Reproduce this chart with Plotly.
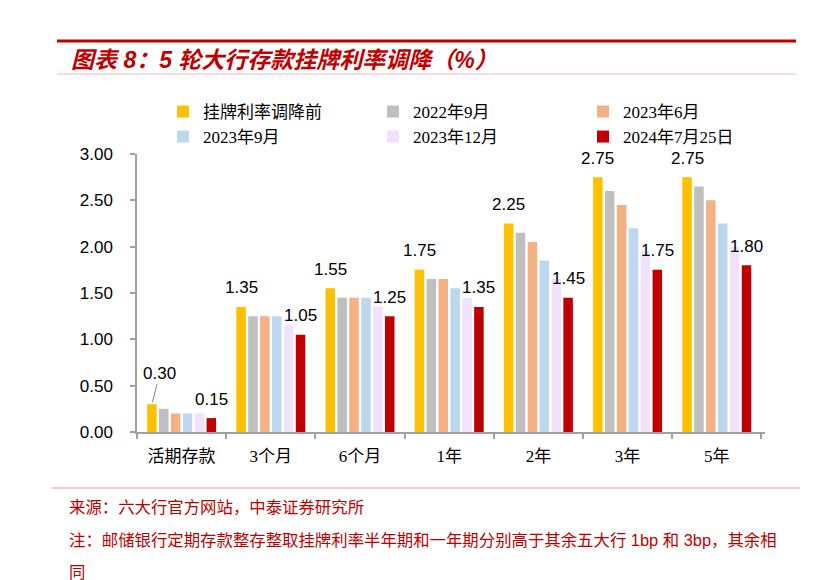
import plotly.graph_objects as go

categories = ["活期存款", "3个月", "6个月", "1年", "2年", "3年", "5年"]
series_names = ["挂牌利率调降前", "2022年9月", "2023年6月", "2023年9月", "2023年12月", "2024年7月25日"]
before_cut = [0.30, 1.35, 1.55, 1.75, 2.25, 2.75, 2.75]
sep_2022 = [0.25, 1.25, 1.45, 1.65, 2.15, 2.60, 2.65]
jun_2023 = [0.20, 1.25, 1.45, 1.65, 2.05, 2.45, 2.50]
sep_2023 = [0.20, 1.25, 1.45, 1.55, 1.85, 2.20, 2.25]
dec_2023 = [0.20, 1.15, 1.35, 1.45, 1.65, 1.95, 2.00]
jul_2024 = [0.15, 1.05, 1.25, 1.35, 1.45, 1.75, 1.80]
series_values = [before_cut, sep_2022, jun_2023, sep_2023, dec_2023, jul_2024]
colors = ["#FFC000", "#BFBFBF", "#F4B183", "#BDD7EE", "#F1E1FA", "#C00000"]
y_ticks = [0, 0.5, 1.0, 1.5, 2.0, 2.5, 3.0]
y_tick_labels = ["0.00", "0.50", "1.00", "1.50", "2.00", "2.50", "3.00"]

BARGAP = 0.2
BARGROUPGAP = 0.2
n = len(series_names)

serif = "Liberation Serif, Noto Sans CJK SC"
sans = "Liberation Sans, Arial, sans-serif"
foot = "Liberation Sans, Noto Sans CJK SC"
red = "#C00000"
axis_grey = "#A0A0A0"

# page offset (body margin) and figure geometry
OFF = 8
W, H = 830, 580
ML, MR, MT, MB = 137 - OFF, W - (765 - OFF), 154 - OFF, H - (432 - OFF)
pw, ph = W - ML - MR, H - MT - MB


def px(x):
    return (x - OFF - ML) / pw


def py(y):
    return 1 - (y - OFF - MT) / ph


fig = go.Figure()
for k, (name, vals, c) in enumerate(zip(series_names, series_values, colors)):
    fig.add_trace(go.Bar(x=categories, y=vals, name=name,
                         marker=dict(color=c, line=dict(width=0)),
                         legend="legend" if k < 3 else "legend2"))


def offset(k):
    gw = 1 - BARGAP
    return -gw / 2 + gw / n * (k + 0.5)


label_font = dict(family=sans, size=17, color="#000")
annotations = []
for i, cat in enumerate(categories):
    v = before_cut[i]
    if i == 0:
        annotations.append(dict(x=i + offset(0), y=v, xref="x", yref="y", text=f"{v:.2f}",
                                showarrow=True, arrowhead=0, arrowwidth=1, arrowcolor="#808080",
                                standoff=2, ax=8, ay=-31, font=label_font))
    else:
        annotations.append(dict(x=i + offset(0), y=v, xref="x", yref="y", text=f"{v:.2f}",
                                showarrow=False, yanchor="middle", yshift=19, font=label_font))
    v_last = jul_2024[i]
    annotations.append(dict(x=i + offset(n - 1), y=v_last, xref="x", yref="y", text=f"{v_last:.2f}",
                            showarrow=False, yanchor="middle", yshift=19, font=label_font))

PAD = 3
annotations += [
    dict(x=px(72 - PAD), y=py(60), xref="paper", yref="paper",
         text="<b><i>图表 8：5 轮大行存款挂牌利率调降（%）</i></b>",
         showarrow=False, xanchor="left", yanchor="middle",
         font=dict(family="Liberation Sans, Noto Sans CJK SC", size=23, color=red)),
    dict(x=px(70 - PAD), y=py(507), xref="paper", yref="paper",
         text="来源：六大行官方网站，中泰证券研究所", showarrow=False,
         xanchor="left", yanchor="middle", font=dict(family=foot, size=16.4, color=red)),
    dict(x=px(70 - PAD), y=py(540), xref="paper", yref="paper",
         text="注：邮储银行定期存款整存整取挂牌利率半年期和一年期分别高于其余五大行 1bp 和 3bp，其余相",
         showarrow=False, xanchor="left", yanchor="middle", font=dict(family=foot, size=16.4, color=red)),
    dict(x=px(70 - PAD), y=py(572), xref="paper", yref="paper", text="同", showarrow=False,
         xanchor="left", yanchor="middle", font=dict(family=foot, size=16.4, color=red)),
]

shapes = [
    dict(type="line", xref="paper", yref="paper", x0=px(57), x1=px(796), y0=py(41), y1=py(41),
         line=dict(color=red, width=3)),
    dict(type="line", xref="paper", yref="paper", x0=px(57), x1=px(796), y0=py(74), y1=py(74),
         line=dict(color="#F2B8B8", width=1)),
    dict(type="line", xref="paper", yref="paper", x0=px(52), x1=px(800), y0=py(488), y1=py(488),
         line=dict(color="#F2B8B8", width=1.5)),
]

legend_common = dict(orientation="h", xanchor="left", yanchor="middle",
                     entrywidth=165, entrywidthmode="pixels", traceorder="normal",
                     font=dict(family=serif, size=17, color="#000"), itemwidth=30,
                     bgcolor="rgba(0,0,0,0)")

fig.update_layout(
    width=W, height=H,
    margin=dict(l=ML, r=MR, t=MT, b=MB),
    paper_bgcolor="white", plot_bgcolor="white",
    barmode="group", bargap=BARGAP, bargroupgap=BARGROUPGAP,
    showlegend=True,
    legend=dict(x=px(163), y=py(112), **legend_common),
    legend2=dict(x=px(163), y=py(137), **legend_common),
    xaxis=dict(type="category", showline=True, linecolor=axis_grey, linewidth=1.5,
               ticks="outside", tickson="boundaries", ticklen=5, tickcolor=axis_grey, tickwidth=1.5,
               tickfont=dict(family=serif, size=17, color="#000"), showgrid=False,
               ticklabelstandoff=8),
    yaxis=dict(range=[0, 3.0], tickvals=y_ticks, ticktext=y_tick_labels, showline=True,
               linecolor=axis_grey, linewidth=1.5, ticks="outside", ticklen=5, tickcolor=axis_grey,
               tickwidth=1.5, tickfont=dict(family=sans, size=17, color="#000"), showgrid=False,
               zeroline=False, ticklabelstandoff=14),
    annotations=annotations, shapes=shapes,
)

fig.write_html("out.html")
